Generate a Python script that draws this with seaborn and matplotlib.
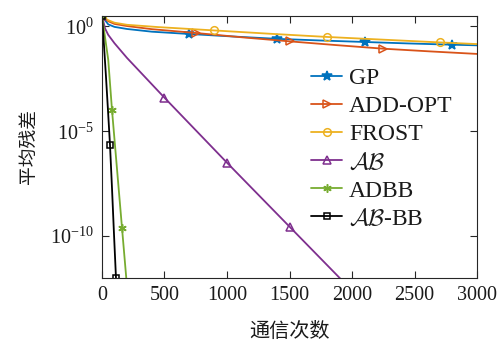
import numpy as np
import pandas as pd
import matplotlib
matplotlib.use("Agg")
import matplotlib.pyplot as plt
import seaborn as sns
from matplotlib.ticker import LogFormatterSciNotation, FixedLocator, NullLocator

sns.set_theme(style="white")
plt.rcParams['font.family'] = ['Liberation Serif', 'DejaVu Serif']
plt.rcParams['mathtext.fontset'] = 'stix'

# ---- data (log10 of average residual) ----
gp_x = [0, 50, 100, 200, 400, 700, 1050, 1400, 1750, 2100, 2450, 2800, 3000]
gp_log = [0.5, 0.1, -0.02, -0.12, -0.25, -0.36, -0.48, -0.59, -0.67, -0.74, -0.81, -0.87, -0.90]

addopt_x = [0, 50, 100, 200, 400, 750, 1125, 1500, 1875, 2250, 2625, 3000]
addopt_log = [0.5, 0.25, 0.12, 0.02, -0.13, -0.31, -0.52, -0.71, -0.89, -1.06, -1.19, -1.31]

frost_x = [0, 50, 100, 200, 450, 900, 1350, 1800, 2250, 2700, 3000]
frost_log = [0.5, 0.3, 0.18, 0.08, -0.03, -0.19, -0.35, -0.50, -0.63, -0.76, -0.84]

ab_x = [0, 25, 50, 100, 200, 500, 1000, 1500, 2000]
ab_log = [0.5, -0.1, -0.4, -0.8, -1.5, -3.4, -6.5, -9.55, -12.6]

adbb_x = [0, 50, 80, 160, 200]
adbb_log = [0.5, -1.59, -3.98, -9.6, -12.4]

abbb_x = [0, 16, 32, 48, 64, 80, 96, 112, 128]
abbb_log = [0.5, -0.9, -2.4, -4.0, -5.64, -7.7, -9.9, -12.0, -14.0]

labels = ['GP', 'ADD-OPT', 'FROST', r'$\mathcal{AB}$', 'ADBB', r'$\mathcal{AB}$-BB']
colors = ['#0072BD', '#D95319', '#EDB120', '#7E2F8E', '#77AC30', '#000000']

series = [
    (gp_x, gp_log, '*', True, 7, [0, 5, 7, 9, 11]),
    (addopt_x, addopt_log, '>', False, 5.5, [0, 5, 7, 9]),
    (frost_x, frost_log, 'o', False, 5.5, [0, 5, 7, 9]),
    (ab_x, ab_log, '^', False, 5.5, [0, 5, 6, 7]),
    (adbb_x, adbb_log, (6, 2, 0), False, 6, [0, 2, 3]),
    (abbb_x, abbb_log, 's', False, 5, [0, 4, 7]),
]

fig = plt.figure(figsize=(4.97, 3.43), dpi=100)
ax = fig.add_axes([0.2052, 0.1895, 0.7546, 0.7639])

handles = []
for (xs, lg, mk, filled, ms, me), lab, col in zip(series, labels, colors):
    df = pd.DataFrame({'x': xs, 'y': 10.0 ** np.array(lg)})
    kw = dict(marker=mk, markersize=ms, markeredgewidth=1.1,
              markevery=me, linewidth=1.3, color=col)
    if filled:
        kw.update(markerfacecolor=col, markeredgecolor=col)
    else:
        kw.update(markerfacecolor='none', markeredgecolor=col)
    sns.lineplot(data=df, x='x', y='y', ax=ax, sort=False, **kw)
    handles.append(ax.lines[-1])

ax.set_yscale('log')
ax.set_xlim(0, 3000)
ax.set_ylim(1e-12, 10 ** 0.5)
ax.set_xticks([0, 500, 1000, 1500, 2000, 2500, 3000])
ax.yaxis.set_major_locator(FixedLocator([1, 1e-5, 1e-10]))
ax.yaxis.set_minor_locator(NullLocator())
ax.yaxis.set_major_formatter(LogFormatterSciNotation())

for sp in ax.spines.values():
    sp.set_color('#262626')
    sp.set_linewidth(0.8)
ax.tick_params(axis='both', which='major', direction='in', length=5, width=0.8,
               color='#262626', labelsize=14.5, labelcolor='#1a1a1a',
               top=True, right=True, bottom=True, left=True, pad=6)

ax.set_xlabel('通信次数', family=['Noto Sans CJK SC', 'DejaVu Sans'], fontsize=14.5,
              color='#1a1a1a', labelpad=11)
ax.set_ylabel('平均残差', family=['Noto Sans CJK SC', 'DejaVu Sans'], fontsize=13.5,
              color='#1a1a1a', labelpad=8)

leg = ax.legend(handles, labels, loc='center left', bbox_to_anchor=(0.558, 0.494),
                frameon=False, fontsize=17, handlelength=1.3, handletextpad=0.3,
                labelspacing=0.28, borderpad=0, borderaxespad=0)
for t in leg.get_texts():
    t.set_color('#1a1a1a')
    t.set_math_fontfamily('cm')

fig.savefig('out.png', dpi=100)
